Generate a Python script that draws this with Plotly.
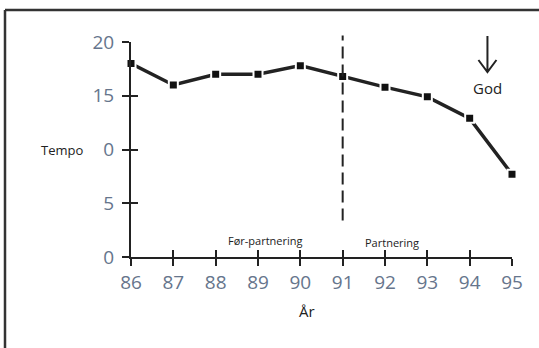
import plotly.graph_objects as go

years = [86, 87, 88, 89, 90, 91, 92, 93, 94, 95]
tempo = [18, 16, 17, 17, 17.8, 16.8, 15.8, 14.9, 12.9, 7.7]
y_tickvals = [0, 5, 10, 15, 20]
y_ticktext = ["0", "5", "0", "15", "20"]
x_tickvals = years
x_ticktext = [str(v) for v in years]

tick_color = "#66758c"
ink = "#222222"

fig = go.Figure()
fig.add_trace(go.Scatter(
    x=years, y=tempo, mode="lines+markers",
    line=dict(color=ink, width=3.5),
    marker=dict(symbol="square", size=9, color="#111111",
                line=dict(color="white", width=2)),
    cliponaxis=False, showlegend=False, hoverinfo="skip"))
fig.add_trace(go.Scatter(x=years, y=tempo, mode="none", xaxis="x2", yaxis="y2",
                         showlegend=False, hoverinfo="skip"))

common_font = dict(family="Open Sans, Noto Sans, sans-serif", size=19, color=tick_color)
fig.update_layout(
    width=539, height=348,
    margin=dict(l=131, r=27, t=42, b=91),
    paper_bgcolor="white", plot_bgcolor="white",
    xaxis=dict(range=[86, 95], tickvals=x_tickvals, ticktext=x_ticktext,
               showgrid=False, zeroline=False, showline=True, linecolor=ink, linewidth=2,
               ticks="outside", ticklen=7, tickwidth=1.5, tickcolor=ink,
               tickfont=common_font, ticklabelstandoff=0),
    yaxis=dict(range=[0, 20], tickvals=y_tickvals, ticktext=y_ticktext,
               showgrid=False, zeroline=False, showline=True, linecolor=ink, linewidth=2,
               ticks="outside", ticklen=7, tickwidth=1.5, tickcolor=ink,
               tickfont=common_font, ticklabelstandoff=4),
    xaxis2=dict(range=[86, 95], overlaying="x", anchor="y2", tickvals=x_tickvals,
                showticklabels=False, showgrid=False, zeroline=False,
                ticks="inside", ticklen=7, tickwidth=1.5, tickcolor=ink),
    yaxis2=dict(range=[0, 20], overlaying="y", anchor="x2", tickvals=y_tickvals,
                showticklabels=False, showgrid=False, zeroline=False,
                ticks="inside", ticklen=7, tickwidth=1.5, tickcolor=ink),
)

# outer frame (top and left edges visible)
fig.add_shape(type="line", xref="paper", yref="paper", xsizemode="pixel", ysizemode="pixel",
              xanchor=0, yanchor=1, x0=-126, x1=420, y0=32, y1=32,
              line=dict(color="#333333", width=2.5))
fig.add_shape(type="line", xref="paper", yref="paper", xsizemode="pixel", ysizemode="pixel",
              xanchor=0, yanchor=1, x0=-126, x1=-126, y0=32, y1=-320,
              line=dict(color="#333333", width=2.5))

# dashed separator at 91
fig.add_shape(type="line", xref="x", yref="paper", x0=91, x1=91, y0=0.17, y1=1.03,
              line=dict(color=ink, width=2, dash="12px,6px"))

# arrow above "God"
fig.add_shape(type="path", xref="x", yref="paper", xsizemode="pixel", ysizemode="pixel",
              xanchor=94.42, yanchor=1,
              path="M 0 6 L 0 -30 M -9 -18 L 0 -30 L 9 -18",
              line=dict(color=ink, width=2))

txt = dict(family="Open Sans, Noto Sans, sans-serif", color="#222222")
fig.add_annotation(x=94.42, y=1, xref="x", yref="paper", yanchor="middle", yshift=-46,
                   text="God", showarrow=False, font=dict(size=15, **txt))
fig.add_annotation(x=89.17, y=0, xref="x", yref="paper", yanchor="middle", yshift=17,
                   text="Før-partnering", showarrow=False, font=dict(size=11, **txt))
fig.add_annotation(x=92.17, y=0, xref="x", yref="paper", yanchor="middle", yshift=15,
                   text="Partnering", showarrow=False, font=dict(size=11, **txt))
fig.add_annotation(x=0, y=10, xref="paper", yref="y", xanchor="center", xshift=-69,
                   text="Tempo", showarrow=False, font=dict(size=13, **txt))
fig.add_annotation(x=90.15, y=0, xref="x", yref="paper", yanchor="middle", yshift=-54,
                   text="År", showarrow=False, font=dict(size=15, **txt))

fig.write_html("out.html", config={"displayModeBar": False},
               post_script="document.body.style.margin='0px';")
